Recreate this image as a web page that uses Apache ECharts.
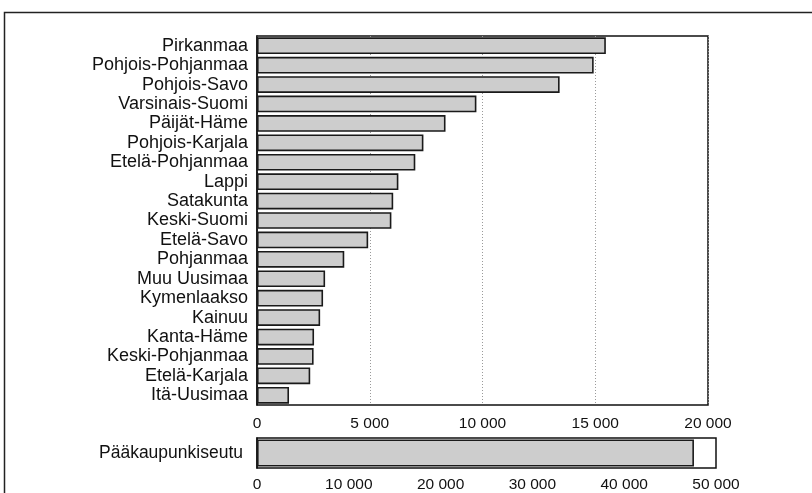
<!DOCTYPE html>
<html>
<head>
<meta charset="utf-8">
<script src="https://cdn.jsdelivr.net/npm/echarts@6/dist/echarts.min.js"></script>
<style>html,body{margin:0;padding:0;background:#fff;}#c{width:812px;height:493px;}</style>
</head>
<body>
<div id="c"></div>
<script>
var regions = ["Pirkanmaa","Pohjois-Pohjanmaa","Pohjois-Savo","Varsinais-Suomi","Päijät-Häme","Pohjois-Karjala","Etelä-Pohjanmaa","Lappi","Satakunta","Keski-Suomi","Etelä-Savo","Pohjanmaa","Muu Uusimaa","Kymenlaakso","Kainuu","Kanta-Häme","Keski-Pohjanmaa","Etelä-Karjala","Itä-Uusimaa"];
var regionValues = [15470,14930,13420,9730,8360,7380,7020,6270,6040,5960,4930,3870,3020,2930,2800,2530,2510,2360,1420];
var capitalCategory = ["Pääkaupunkiseutu"];
var capitalValues = [47600];
var topTicks = [0,5000,10000,15000,20000];
var bottomTicks = [0,10000,20000,30000,40000,50000];

function fmt(v){ var s=String(Math.round(v)); return s.length>3 ? s.slice(0,s.length-3)+' '+s.slice(-3) : s; }
var font = '"Liberation Sans", Arial, Helvetica, sans-serif';
var barStyle = {color:'#cdcdcd', borderColor:'#1a1a1a', borderWidth:1.6};

var chart = echarts.init(document.getElementById('c'), null, {renderer:'canvas'});
chart.setOption({
  backgroundColor:'#ffffff',
  animation:false,
  graphic:[
    {type:'polyline', shape:{points:[[4.5,500],[4.5,12.5],[820,12.5]]}, style:{stroke:'#222', lineWidth:1.5, fill:null}, z:0}
  ],
  grid:[
    {left:257, top:36, width:451, height:369, show:true, borderColor:'#111', borderWidth:1.5, backgroundColor:'transparent'},
    {left:257, top:438, width:459, height:32, show:true, borderColor:'#111', borderWidth:1.5, backgroundColor:'transparent'}
  ],
  xAxis:[
    {type:'value', gridIndex:0, min:topTicks[0], max:topTicks[topTicks.length-1], interval:topTicks[1]-topTicks[0],
     axisLine:{show:false}, axisTick:{show:false},
     splitLine:{show:true, lineStyle:{color:'#9a9a9a', type:[1,2], width:1}},
     axisLabel:{color:'#111', fontFamily:font, fontSize:15.5, margin:11, formatter:fmt}},
    {type:'value', gridIndex:1, min:bottomTicks[0], max:bottomTicks[bottomTicks.length-1], interval:bottomTicks[1]-bottomTicks[0],
     axisLine:{show:false}, axisTick:{show:false}, splitLine:{show:false},
     axisLabel:{color:'#111', fontFamily:font, fontSize:15.5, margin:9, formatter:fmt}}
  ],
  yAxis:[
    {type:'category', gridIndex:0, data:regions, inverse:true,
     axisLine:{show:true, lineStyle:{color:'#111', width:1.5}}, axisTick:{show:false},
     axisLabel:{interval:0, hideOverlap:false, color:'#111', fontFamily:font, fontSize:18, margin:9, lineHeight:19}},
    {type:'category', gridIndex:1, data:capitalCategory,
     axisLine:{show:true, lineStyle:{color:'#111', width:1.5}}, axisTick:{show:false},
     axisLabel:{interval:0, color:'#111', fontFamily:font, fontSize:17.5, margin:14}}
  ],
  series:[
    {type:'bar', xAxisIndex:0, yAxisIndex:0, data:regionValues, barCategoryGap:'14%', itemStyle:barStyle},
    {type:'bar', xAxisIndex:1, yAxisIndex:1, data:capitalValues, barCategoryGap:'10%', itemStyle:barStyle}
  ]
});
</script>
</body>
</html>
